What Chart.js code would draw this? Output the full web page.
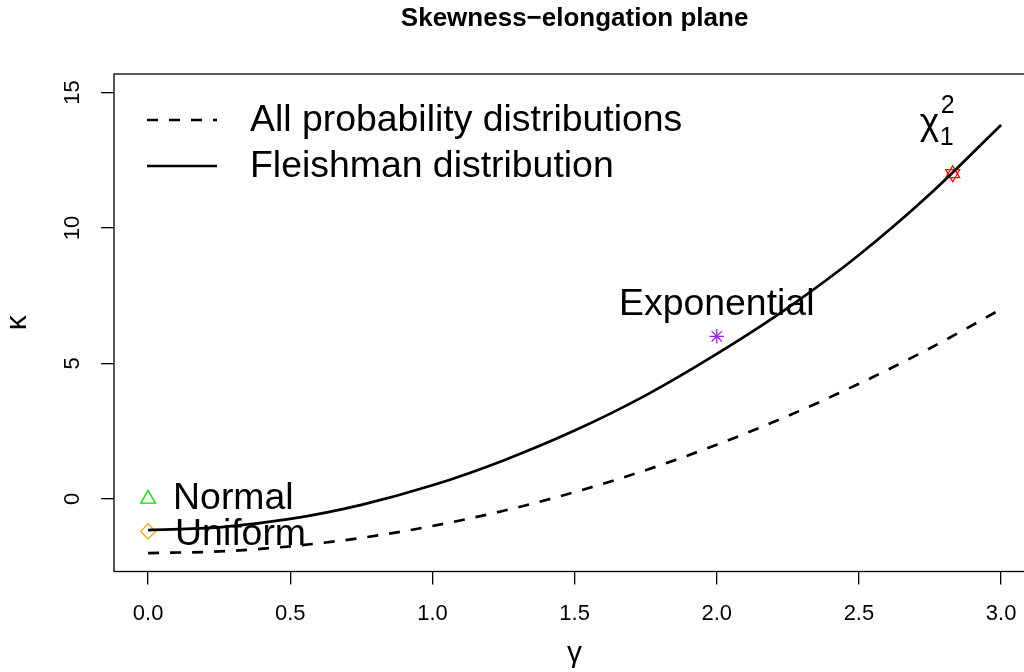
<!DOCTYPE html>
<html>
<head>
<meta charset="utf-8">
<script src="https://cdn.jsdelivr.net/npm/chart.js@4.4.0/dist/chart.umd.min.js"></script>
<style>
  html, body { margin: 0; padding: 0; background: #fff; overflow: hidden; }
  #wrap { width: 1045px; height: 672px; }
</style>
</head>
<body>
<div id="wrap"><canvas id="planeChart" width="1045" height="672"></canvas></div>
<script>
// skewness grid and the two boundary curves
const gammaGrid = [0, 0.25, 0.5, 0.75, 1.0, 1.25, 1.5, 1.75, 2.0, 2.25, 2.5, 2.75, 3.0];
const allDistKappa = [-2, -1.94, -1.75, -1.44, -1, -0.44, 0.25, 1.06, 2, 3.06, 4.25, 5.56, 7];
const fleishmanKappa = [-1.15, -1.05, -0.74, -0.22, 0.5, 1.42, 2.52, 3.82, 5.35, 7.05, 9.0, 11.25, 13.8];

// reference distributions
const refNames = ['Normal', 'Uniform', 'Exponential', 'chi2_1'];
const refSkew = [0, 0, 2, 2.83];
const refKurt = [0, -1.2, 6, 12];

const xTicks = [0, 0.5, 1.0, 1.5, 2.0, 2.5, 3.0];
const yTicks = [0, 5, 10, 15];

const legendLabels = ['All probability distributions', 'Fleishman distribution'];

const FONT = '"Liberation Sans", Arial, Helvetica, sans-serif';
Chart.defaults.font.family = FONT;
Chart.defaults.color = '#000';

function curve(ys) {
    return gammaGrid.map((g, i) => ({ x: g, y: ys[i] }));
}
function refPoint(i) {
    return [{ x: refSkew[i], y: refKurt[i] }];
}

const overlay = {
    id: 'overlay',
    afterDatasetsDraw(chart) {
        const { ctx, chartArea: a, scales: { x, y } } = chart;
        ctx.save();

        // plot box
        ctx.strokeStyle = '#000';
        ctx.lineWidth = 1.3;
        ctx.strokeRect(a.left, a.top, a.right - a.left, a.bottom - a.top);

        // legend (top-left, no frame)
        ctx.lineWidth = 2.7;
        ctx.lineCap = 'butt';
        const rows = [120, 166];
        ctx.beginPath();
        ctx.setLineDash([11, 11]);
        ctx.moveTo(147, rows[0]); ctx.lineTo(217, rows[0]);
        ctx.stroke();
        ctx.beginPath();
        ctx.setLineDash([]);
        ctx.moveTo(147, rows[1]); ctx.lineTo(217, rows[1]);
        ctx.stroke();

        ctx.fillStyle = '#000';
        ctx.font = '37.4px ' + FONT;
        ctx.textBaseline = 'middle';
        ctx.textAlign = 'left';
        legendLabels.forEach((t, i) => ctx.fillText(t, 250, rows[i] + 1));

        // point labels
        ctx.fillText(refNames[0], x.getPixelForValue(refSkew[0]) + 25, y.getPixelForValue(refKurt[0]));
        ctx.fillText(refNames[1], x.getPixelForValue(refSkew[1]) + 27, y.getPixelForValue(refKurt[1]) + 3);
        ctx.textAlign = 'center';
        ctx.fillText(refNames[2], x.getPixelForValue(refSkew[2]), y.getPixelForValue(refKurt[2]) - 32);

        // chi-square with sub/superscript
        const cx = x.getPixelForValue(refSkew[3]);
        const cy = y.getPixelForValue(refKurt[3]);
        ctx.textAlign = 'left';
        ctx.textBaseline = 'alphabetic';
        ctx.font = '37px ' + FONT;
        ctx.fillText('\u03C7', cx - 33, cy - 40);
        ctx.font = '25px ' + FONT;
        ctx.fillText('1', cx - 13, cy - 29);
        ctx.fillText('2', cx - 12, cy - 61);

        ctx.restore();
    }
};

const ctx = document.getElementById('planeChart').getContext('2d');
new Chart(ctx, {
    type: 'scatter',
    data: {
        datasets: [
            {
                label: legendLabels[0],
                data: curve(allDistKappa),
                showLine: true,
                borderColor: '#000',
                borderWidth: 2.7,
                borderDash: [11, 11],
                pointRadius: 0,
                cubicInterpolationMode: 'monotone'
            },
            {
                label: legendLabels[1],
                data: curve(fleishmanKappa),
                showLine: true,
                borderColor: '#000',
                borderWidth: 2.7,
                pointRadius: 0,
                cubicInterpolationMode: 'monotone'
            },
            {
                label: refNames[0],
                data: refPoint(0),
                pointStyle: 'triangle',
                pointRadius: 8.5,
                pointBorderWidth: 1.3,
                borderColor: '#00e000',
                backgroundColor: 'rgba(0,0,0,0)'
            },
            {
                label: refNames[1],
                data: refPoint(1),
                pointStyle: 'rectRot',
                pointRadius: 7.5,
                pointBorderWidth: 1.3,
                borderColor: '#ffa500',
                backgroundColor: 'rgba(0,0,0,0)'
            },
            {
                label: refNames[2],
                data: refPoint(2),
                pointStyle: 'star',
                pointRadius: 7.3,
                pointBorderWidth: 1.3,
                borderColor: '#a020f0',
                backgroundColor: 'rgba(0,0,0,0)'
            },
            {
                label: refNames[3],
                data: refPoint(3),
                pointStyle: 'triangle',
                pointRadius: 8,
                pointBorderWidth: 1.3,
                borderColor: '#ff0000',
                backgroundColor: 'rgba(0,0,0,0)'
            },
            {
                label: refNames[3] + ' (down)',
                data: refPoint(3),
                pointStyle: 'triangle',
                pointRotation: 180,
                pointRadius: 8,
                pointBorderWidth: 1.3,
                borderColor: '#ff0000',
                backgroundColor: 'rgba(0,0,0,0)'
            }
        ]
    },
    options: {
        responsive: false,
        animation: false,
        layout: { padding: { left: 0, right: 0, top: 0, bottom: 0 } },
        plugins: {
            legend: { display: false },
            tooltip: { enabled: false },
            title: {
                display: true,
                text: 'Skewness\u2212elongation plane',
                fullSize: false,
                font: { size: 26, weight: 'bold' },
                color: '#000',
                padding: { top: 3.5, bottom: 39.3 }
            }
        },
        scales: {
            x: {
                type: 'linear',
                min: -0.12,
                max: 3.12,
                afterBuildTicks: (scale) => { scale.ticks = xTicks.map(v => ({ value: v })); },
                afterFit: (scale) => { scale.height = 100.5; },
                grid: { drawOnChartArea: false, tickLength: 13, color: '#000', lineWidth: 1.3 },
                border: { display: false },
                ticks: {
                    font: { size: 22 },
                    color: '#000',
                    padding: 16,
                    maxRotation: 0,
                    callback: (v) => Number(v).toFixed(1)
                },
                title: {
                    display: true,
                    text: '\u03B3',
                    font: { size: 30 },
                    color: '#000',
                    padding: { top: 0, bottom: 0 }
                }
            },
            y: {
                type: 'linear',
                min: -2.68,
                max: 15.68,
                afterBuildTicks: (scale) => { scale.ticks = yTicks.map(v => ({ value: v })); },
                afterFit: (scale) => { scale.width = 114; },
                grid: { drawOnChartArea: false, tickLength: 13, color: '#000', lineWidth: 1.3 },
                border: { display: false },
                ticks: {
                    font: { size: 22 },
                    color: '#000',
                    padding: 16,
                    minRotation: 90,
                    maxRotation: 90,
                    crossAlign: 'center'
                },
                title: {
                    display: true,
                    text: '\u03BA',
                    font: { size: 30 },
                    color: '#000',
                    padding: { top: 0, bottom: 0 }
                }
            }
        }
    },
    plugins: [overlay]
});
</script>
</body>
</html>
